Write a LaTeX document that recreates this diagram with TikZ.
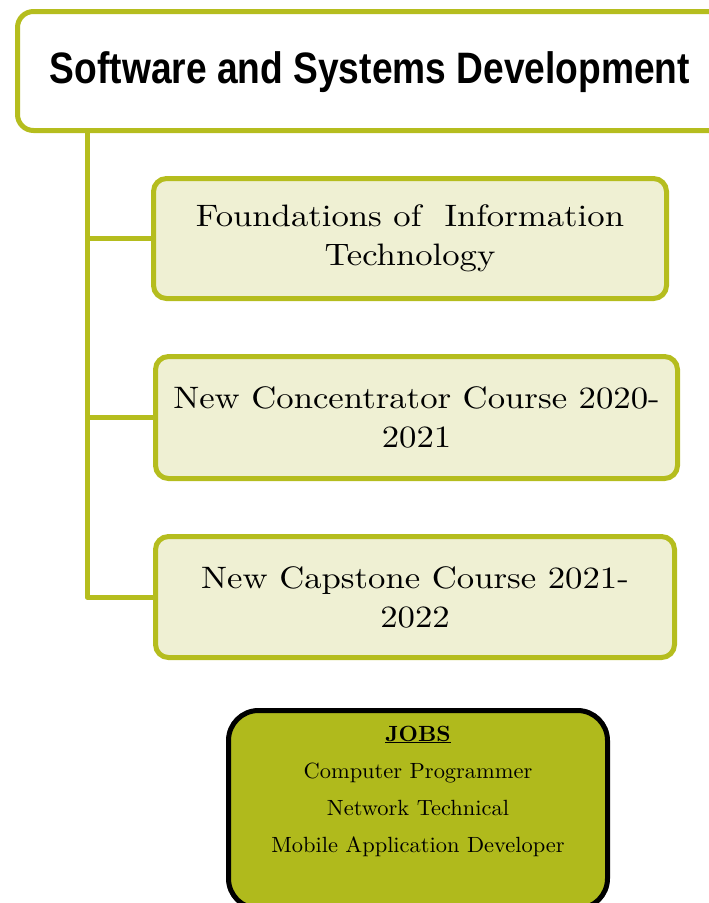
\documentclass[tikz,border=0pt]{standalone}
\usepackage{fontspec}
\newfontfamily\titlefont{Liberation Sans}
\newfontfamily\coursefont{lmroman10-regular}[Extension=.otf, FakeStretch=1.12]
\newfontfamily\jobsfont{lmroman10-regular}[Extension=.otf, FakeStretch=1.02,
  BoldFont=lmroman10-bold]
\definecolor{ssdline}{RGB}{181,189,30}
\definecolor{ssdfill}{RGB}{239,240,211}
\definecolor{ssdjobs}{RGB}{176,186,28}
\begin{document}
\begin{tikzpicture}[x=1pt,y=-1pt,
  topbox/.style={draw=ssdline, line width=5pt, rounded corners=16pt, fill=white,
    minimum width=723pt, minimum height=119pt, inner sep=0pt},
  titletxt/.style={inner sep=0pt},
  course/.style={draw=ssdline, line width=5pt, rounded corners=13pt, fill=ssdfill,
    align=center, inner sep=0pt, font=\coursefont\fontsize{31}{39}\selectfont},
  jobsbox/.style={draw=black, line width=5pt, rounded corners=30pt, fill=ssdjobs,
    minimum width=379pt, minimum height=198pt, inner sep=0pt},
  jobstxt/.style={align=center, inner sep=0pt, font=\jobsfont\fontsize{22}{37}\selectfont},
  link/.style={draw=ssdline, line width=5pt, line join=round}]
\useasboundingbox (0,0) rectangle (709,903);
\node[topbox] (top) at (379,71) {};
\node[titletxt] (title) at (370,72)
  {\resizebox*{640pt}{41pt}{\titlefont\bfseries Software and Systems Development}};
\node[course, minimum width=513pt, minimum height=120pt] (b1) at (410,238.5)
  {Foundations of\ \ Information\\Technology};
\node[course, minimum width=522pt, minimum height=122pt] (b2) at (416.5,417.5)
  {New Concentrator Course 2020-\\2021};
\node[course, minimum width=519pt, minimum height=121pt] (b3) at (415,597)
  {New Capstone Course 2021-\\2022};
\coordinate (trunk) at (87,131);
\draw[link] (trunk) |- (b1.west);
\draw[link] (trunk) |- (b2.west);
\draw[link] (trunk) |- (b3.west);
\node[jobsbox] (jobs) at (418,809.5) {};
\node[jobstxt] (jobstext) at (418,791)
  {\textbf{\underline{JOBS}}\\Computer Programmer\\Network Technical\\Mobile Application Developer};
\end{tikzpicture}
\end{document}
